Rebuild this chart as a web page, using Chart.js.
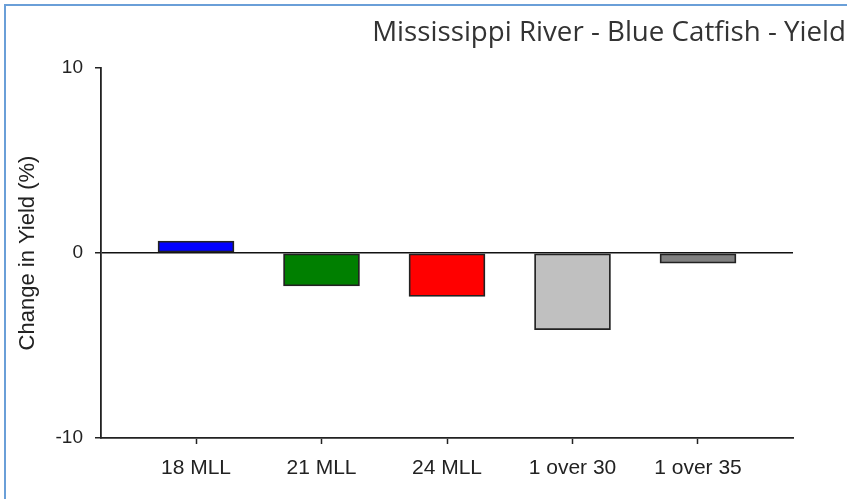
<!DOCTYPE html>
<html>
<head>
<meta charset="utf-8">
<script src="https://cdn.jsdelivr.net/npm/chart.js@4.4.1/dist/chart.umd.min.js"></script>
<style>
    html, body { margin: 0; padding: 0; background: #fff; overflow: hidden; }
    #wrap { position: relative; width: 847px; height: 499px; }
    #frame { position: absolute; left: 4px; top: 4px; width: 900px; height: 600px;
             border-left: 2px solid #6a9fd8; border-top: 2px solid #6a9fd8; }
    canvas { position: absolute; left: 0; top: 0; }
</style>
</head>
<body>
<div id="wrap">
    <div id="frame"></div>
    <canvas id="yieldChart" width="847" height="499"></canvas>
</div>
<script>
// Data
const categories = ['18 MLL', '21 MLL', '24 MLL', '1 over 30', '1 over 35'];
const yieldChange = [0.65, -1.78, -2.35, -4.15, -0.55];
const barColors = ['#0000ff', '#007f00', '#ff0000', '#c0c0c0', '#808080'];
const yTicks = [-10, 0, 10];
const chartTitle = 'Mississippi River - Blue Catfish - Yield';

const fontFamily = "'Liberation Sans', Arial, sans-serif";

// Title drawn top right, like the original slide
const titlePlugin = {
    id: 'slideTitle',
    afterDraw(chart) {
        const ctx = chart.ctx;
        ctx.save();
        ctx.font = "400 27.7px 'Open Sans', sans-serif";
        ctx.fillStyle = '#333';
        ctx.textAlign = 'right';
        ctx.textBaseline = 'alphabetic';
        ctx.fillText(chartTitle, 846, 41);
        ctx.restore();
    }
};

const ctx = document.getElementById('yieldChart').getContext('2d');
new Chart(ctx, {
    type: 'bar',
    data: {
        datasets: [{
            data: yieldChange.map((v, i) => ({ x: i + 1, y: v })),
            backgroundColor: barColors,
            borderColor: '#222',
            borderWidth: 1.8,
            borderSkipped: false,
            barThickness: 76
        }]
    },
    options: {
        responsive: false,
        animation: false,
        layout: { padding: { top: 68, right: 54, left: 0, bottom: 0 } },
        plugins: {
            legend: { display: false },
            tooltip: { enabled: false }
        },
        scales: {
            x: {
                type: 'linear',
                offset: false,
                min: 0.243,
                max: 5.757,
                afterBuildTicks: (scale) => {
                    scale.ticks = categories.map((c, i) => ({ value: i + 1 }));
                },
                afterFit: (scale) => { scale.height = 61; },
                ticks: {
                    color: '#222',
                    font: { family: fontFamily, size: 21 },
                    padding: 12,
                    maxRotation: 0,
                    autoSkip: false,
                    callback: (v) => categories[v - 1]
                },
                grid: {
                    offset: false,
                    drawOnChartArea: false,
                    drawTicks: true,
                    tickLength: 6,
                    tickColor: '#222',
                    tickWidth: 1.5
                },
                border: { color: '#222', width: 1.8 }
            },
            y: {
                min: -10,
                max: 10,
                afterBuildTicks: (scale) => {
                    scale.ticks = yTicks.map(v => ({ value: v }));
                },
                afterFit: (scale) => { scale.width = 101; },
                ticks: {
                    color: '#222',
                    font: { family: fontFamily, size: 19 },
                    padding: 12
                },
                grid: {
                    color: (c) => (c.tick && c.tick.value === 0 ? '#111' : 'rgba(0,0,0,0)'),
                    lineWidth: 1.5,
                    drawTicks: true,
                    tickLength: 6,
                    tickColor: '#222',
                    tickWidth: 1.5
                },
                border: { color: '#222', width: 1.8 },
                title: {
                    display: true,
                    text: 'Change in Yield (%)',
                    color: '#222',
                    font: { family: fontFamily, size: 22 },
                    padding: { top: 15, bottom: 0 }
                }
            }
        }
    },
    plugins: [titlePlugin]
});
</script>
</body>
</html>
